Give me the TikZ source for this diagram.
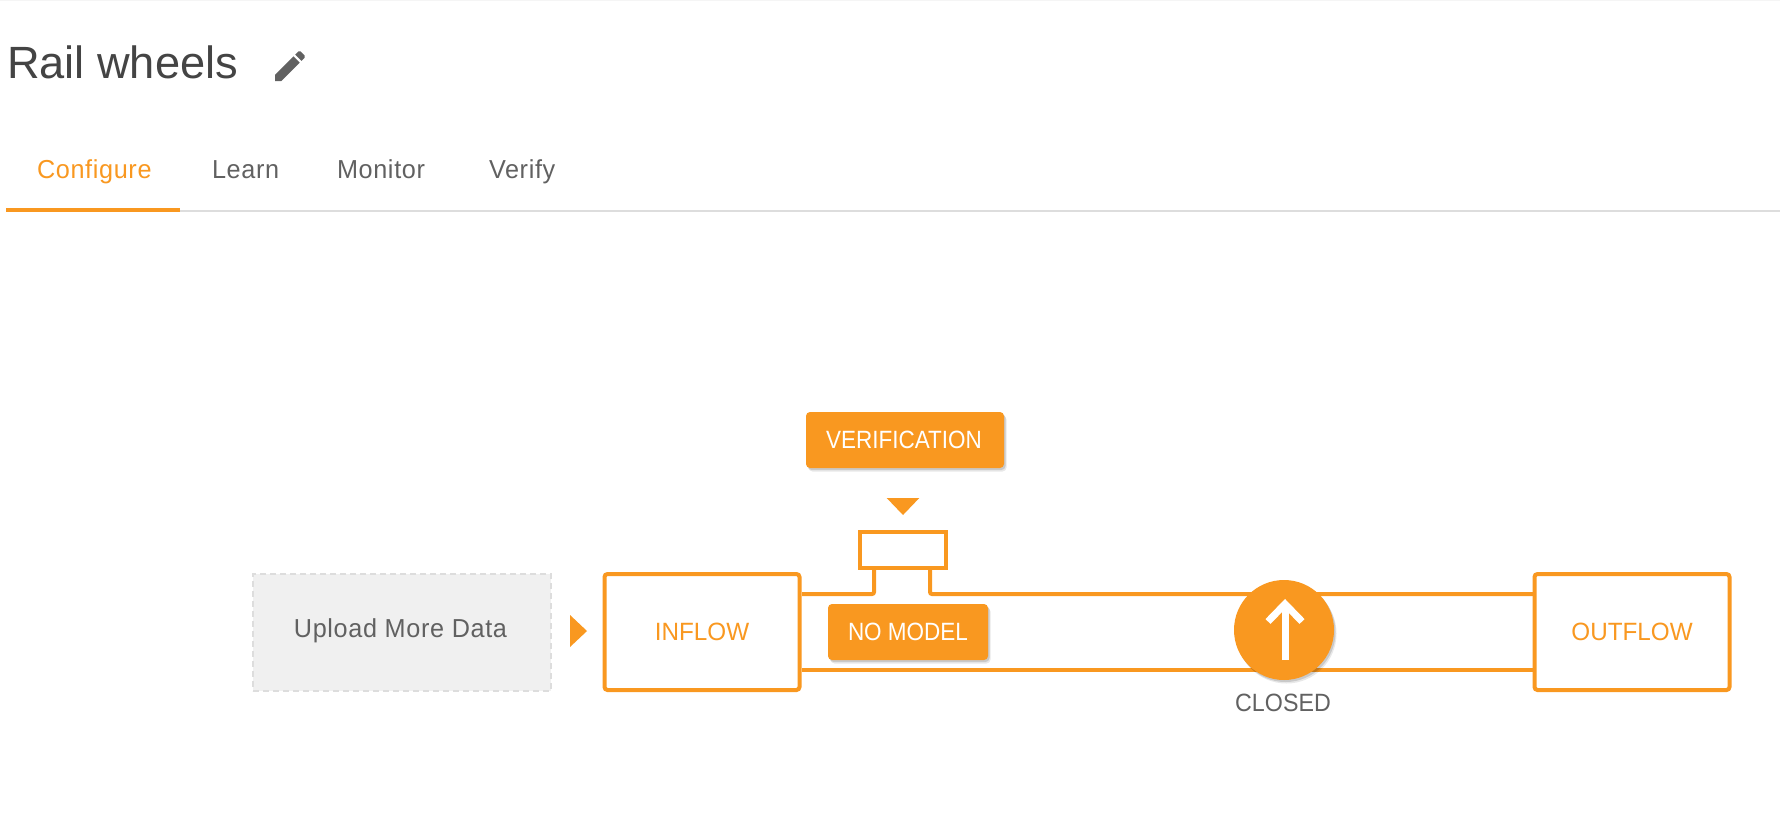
\documentclass[tikz,border=0pt]{standalone}
\usepackage{fontspec}
\setmainfont{Liberation Sans}
\usetikzlibrary{shadows}
\definecolor{flow}{HTML}{F99820}
\definecolor{ink}{HTML}{616161}
\definecolor{titleink}{HTML}{444444}
\definecolor{rule}{HTML}{DDDDDD}
\newfontfamily\lowerface[FakeStretch=0.97,LetterSpace=2.5]{Liberation Sans}
\newfontfamily\boxface[FakeStretch=0.97]{Liberation Sans}
\newfontfamily\badgeface[FakeStretch=0.90]{Liberation Sans}
\newfontfamily\capface[FakeStretch=0.93]{Liberation Sans}
\newcommand{\px}[1]{\fontsize{#1}{#1}\selectfont}
\tikzset{
  softshadow/.style={general shadow={shadow xshift=1.5pt,shadow yshift=-2pt,fill=black,opacity=.13},
                     general shadow={shadow xshift=2.5pt,shadow yshift=-3.5pt,fill=black,opacity=.09}},
  txt/.style={inner sep=0pt,outer sep=0pt,anchor=base,font=\lowerface\px{26}},
  tab/.style={txt,text=ink},
  flowbox/.style={draw=flow,line width=4pt,fill=white,rounded corners=3pt,minimum width=195pt,minimum height=116pt,inner sep=0pt,text=flow,font=\boxface\px{25}},
  badge/.style={fill=flow,rounded corners=4pt,inner sep=0pt,text=white,font=\badgeface\px{25},softshadow},
  pipe/.style={draw=flow,line width=4pt,line join=miter},
}
\begin{document}
\begin{tikzpicture}[x=1pt,y=-1pt]
\useasboundingbox (0,0) rectangle (1780,812);
\fill[white] (0,0) rectangle (1780,812);
\fill[black!4] (0,0) rectangle (1780,1);
% header
\node[txt,anchor=base west,text=titleink,font=\px{45.2}] (title) at (7,78) {Rail wheels};
\begin{scope}[shift={(270,46)},scale=1.667]
\fill[ink] (3,17.25) -- (3,21) -- (6.75,21) -- (17.81,9.94) -- (14.06,6.19) -- cycle;
\fill[ink] (20.71,7.04) .. controls (21.1,6.65) and (21.1,6.02) .. (20.71,5.63) -- (18.37,3.29) .. controls (17.98,2.9) and (17.35,2.9) .. (16.96,3.29) -- (15.13,5.12) -- (18.88,8.87) -- cycle;
\end{scope}
\node[tab,anchor=base west,text=flow] (tabconfigure) at (37,178) {Configure};
\node[tab,anchor=base west] (tablearn) at (212,178) {Learn};
\node[tab,anchor=base west] (tabmonitor) at (337,178) {Monitor};
\node[tab,anchor=base west] (tabverify) at (489,178) {Verify};
\fill[rule] (180,209.5) rectangle (1780,212);
\fill[flow] (6,208) rectangle (180,212);
% upload
\node[draw=rule,line width=2pt,dash pattern=on 6pt off 4pt,fill=black!6,minimum width=298pt,minimum height=117pt,inner sep=0pt] (upload) at (402,632) {};
\node[tab] (uploadlabel) at (400.5,637) {Upload More Data};
\fill[flow] (570,615) -- (587,631) -- (570,647) -- cycle;
% flow boxes
\coordinate (topl) at (802,594);
\coordinate (topr) at (1533,594);
\coordinate (botl) at (802,670);
\coordinate (botr) at (1533,670);
\coordinate (stemla) at (874,594);
\coordinate (stemra) at (930,594);
\node[draw=flow,line width=4pt,fill=white,minimum width=86pt,minimum height=36pt,inner sep=0pt] (gate) at (903,550) {};
\coordinate (stemlb) at (874,570);
\coordinate (stemrb) at (930,570);
\draw[pipe,rounded corners=2pt] (topl) -- (stemla) -- (stemlb);
\draw[pipe,rounded corners=2pt] (stemrb) -- (stemra) -- (topr);
\draw[pipe] (botl) -- (botr);
\node[flowbox] (inflow) at (702,632) {\raisebox{1pt}{INFLOW}};
\node[flowbox] (outflow) at (1632,632) {\raisebox{1pt}{OUTFLOW}};
% badges
\node[badge,minimum width=198pt,minimum height=56pt] (verification) at (905,440) {\hspace*{-2pt}VERIFICATION};
\fill[flow] (886.7,498) -- (919.3,498) -- (903,515) -- cycle;
\node[badge,minimum width=160pt,minimum height=56pt] (nomodel) at (908,632) {\raisebox{1pt}{NO MODEL}};
% valve
\node[circle,fill=flow,minimum size=100pt,inner sep=0pt,softshadow] (valve) at (1284,630) {};
\coordinate (arrowbase) at (1285,660);
\coordinate (arrowtip) at (1285,604);
\draw[white,line width=7pt] (arrowbase) -- (arrowtip);
\draw[white,line width=7pt,line join=miter] (1268,621.5) -- (arrowtip) -- (1302,621.5);
\node[txt,text=ink,font=\capface\px{25}] (closed) at (1283,711) {CLOSED};
\end{tikzpicture}
\end{document}
